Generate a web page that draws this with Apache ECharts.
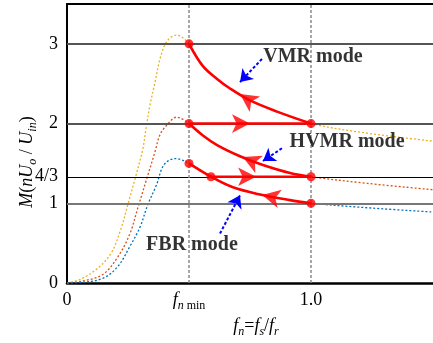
<!DOCTYPE html>
<html>
<head>
<meta charset="utf-8">
<script src="https://cdn.jsdelivr.net/npm/echarts@6/dist/echarts.min.js"></script>
<style>
html, body { margin: 0; padding: 0; background: #fff; }
#chart { width: 433px; height: 343px; }
</style>
</head>
<body>
<div id="chart"></div>
<script>
const FONT = 'Liberation Serif'

// gain curves M(fn)
const curveHigh = [[0, 0], [0.05, 0.04], [0.12, 0.17], [0.18, 0.37], [0.22, 0.67], [0.25, 0.99], [0.28, 1.32], [0.31, 1.67], [0.324, 1.94], [0.34, 2.23], [0.361, 2.52], [0.381, 2.81], [0.409, 3.03], [0.449, 3.11], [0.5, 3.0], [0.557, 2.72], [0.615, 2.56], [0.668, 2.44], [0.75, 2.29], [0.861, 2.15], [1.0, 2.0], [1.23, 1.88], [1.5, 1.78]]
const curveMid = [[0, 0], [0.066, 0.025], [0.148, 0.11], [0.209, 0.33], [0.258, 0.62], [0.291, 0.95], [0.328, 1.32], [0.361, 1.65], [0.381, 1.86], [0.409, 1.98], [0.449, 2.08], [0.5, 2.0], [0.557, 1.85], [0.615, 1.73], [0.709, 1.59], [0.803, 1.48], [0.914, 1.38], [1.0, 1.333], [1.23, 1.25], [1.5, 1.17]]
const curveLow = [[0, 0], [0.053, 0.005], [0.148, 0.06], [0.209, 0.21], [0.258, 0.46], [0.299, 0.70], [0.332, 0.99], [0.368, 1.24], [0.388, 1.43], [0.409, 1.52], [0.443, 1.56], [0.5, 1.5], [0.59, 1.333], [0.68, 1.20], [0.791, 1.11], [0.914, 1.04], [1.0, 1.0], [1.25, 0.94], [1.5, 0.89]]

// operating points and mode transitions
const dots = [[0.5, 3], [1.0, 2], [0.5, 2], [1.0, 4 / 3], [0.5, 1.5], [0.59, 4 / 3], [1.0, 1]]
const hvmrPath = [[0.5, 2], [1.0, 2]]
const fbrPath = [[0.59, 4 / 3], [1.0, 4 / 3]]
const arrowPts = [[0.709, 2.37], [0.75, 2], [0.72, 1.58], [0.775, 4 / 3], [0.80, 1.105]]
const arrowRot = [56, -90, 66, -90, 77]

// mode notes and their pointer lines
const noteText = ['VMR mode', 'HVMR mode', 'FBR mode']
const notePos = [[1.008, 2.84], [1.148, 1.77], [0.512, 0.48]]
const pointerFrom = [[0.799, 2.81], [0.881, 1.69], [0.627, 0.62]]
const pointerTo = [[0.709, 2.52], [0.803, 1.53], [0.709, 1.10]]

// axes
const xTickVals = [0, 0.5, 1.0]
const xTickText = ['0', '{fi|f}{si|n}{sr| min}', '1.0']
const yTickVals = [0, 1, 4 / 3, 2, 3]
const yTickText = ['0', '1', '4/3', '2', '3']
const hLineVals = [1, 4 / 3, 2, 3]
const vLineVals = [0.5, 1.0]

const inRange = (pts) => pts.filter(p => p[0] >= 0.5 && p[0] <= 1.0)

const chart = echarts.init(document.getElementById('chart'))

const rich = {
  fi: { fontFamily: FONT, fontStyle: 'italic', fontSize: 18, lineHeight: 20, verticalAlign: 'top', color: '#000' },
  r: { fontFamily: FONT, fontSize: 18, lineHeight: 20, verticalAlign: 'top', color: '#000' },
  si: { fontFamily: FONT, fontStyle: 'italic', fontSize: 12, lineHeight: 12, verticalAlign: 'top', padding: [9, 0, 0, 0], color: '#000' },
  sr: { fontFamily: FONT, fontSize: 12, lineHeight: 12, verticalAlign: 'top', padding: [9, 0, 0, 0], color: '#000' }
}

const hStyle = [
  { color: '#777', width: 2.2, type: 'solid' },
  { color: '#000', width: 1.2, type: 'solid' },
  { color: '#555', width: 1.8, type: 'solid' },
  { color: '#555', width: 1.8, type: 'solid' }
]

const dotted = (name, data, color) => ({
  name, type: 'line', data, showSymbol: false, smooth: 0.35,
  lineStyle: { color, width: 1.3, type: [2, 2] }, z: 3
})
const redLine = (data, smooth) => ({
  type: 'line', data, showSymbol: false, smooth,
  lineStyle: { color: '#ff0000', width: 2.6 }, z: 5
})

chart.setOption({
  animation: false,
  grid: { left: 67, right: 0, top: 4, bottom: 56 },
  xAxis: [{
    type: 'value', min: 0, max: 1.5,
    axisLine: { lineStyle: { color: '#000', width: 2.6 } },
    axisTick: { show: false },
    splitLine: { show: false },
    axisLabel: {
      customValues: xTickVals, margin: 8, color: '#000', fontFamily: FONT, fontSize: 18,
      formatter: v => xTickText[xTickVals.indexOf(v)] ?? '', rich
    },
    name: '{fi|f}{si|n}{r|=}{fi|f}{si|s}{r|/}{fi|f}{si|r}',
    nameLocation: 'middle', nameGap: 34,
    nameTextStyle: { rich, padding: [0, 0, 0, 12] }
  }, {
    type: 'value', min: 0, max: 1.5, position: 'top',
    axisLine: { show: true, lineStyle: { color: '#000', width: 2 } },
    axisTick: { show: false }, axisLabel: { show: false }, splitLine: { show: false }
  }],
  yAxis: {
    type: 'value', min: 0, max: 3.5,
    axisLine: { show: true, lineStyle: { color: '#000', width: 2 } },
    axisTick: { show: false },
    splitLine: { show: false },
    axisLabel: {
      customValues: yTickVals, margin: 9, color: '#000', fontFamily: FONT, fontSize: 18,
      formatter: v => yTickText[yTickVals.findIndex(t => Math.abs(t - v) < 1e-6)] ?? ''
    }
  },
  graphic: [{
    type: 'text', x: 28, y: 162, rotation: Math.PI / 2,
    style: {
      text: '{fi|M}{r|(}{fi|nU}{si|o}{r| / }{fi|U}{si|in}{r|)}',
      rich, align: 'center', verticalAlign: 'middle'
    }
  }],
  series: [
    {
      type: 'line', data: [], silent: true, z: 1,
      markLine: {
        silent: true, symbol: ['none', 'none'], label: { show: false },
        data: [
          ...hLineVals.map((v, i) => ({ yAxis: v, lineStyle: hStyle[i] })),
          ...vLineVals.map(v => ({ xAxis: v, lineStyle: { color: '#8a8a8a', width: 1.5, type: [3, 2] } }))
        ]
      }
    },
    dotted('high', curveHigh, '#EDB120'),
    dotted('mid', curveMid, '#D95319'),
    dotted('low', curveLow, '#0072BD'),
    redLine(inRange(curveHigh), 0.35),
    redLine(inRange(curveMid), 0.35),
    redLine(inRange(curveLow), 0.35),
    redLine(hvmrPath, false),
    redLine(fbrPath, false),
    {
      type: 'scatter', data: dots, symbol: 'circle', symbolSize: 9,
      itemStyle: { color: '#ff0000' }, z: 6
    },
    {
      type: 'scatter', symbol: 'arrow', symbolSize: [14, 18], z: 7,
      itemStyle: { color: '#ff0000' },
      data: arrowPts.map((p, i) => ({ value: p, symbolRotate: arrowRot[i] }))
    },
    {
      type: 'scatter', symbolSize: 1, z: 8,
      itemStyle: { color: 'transparent' },
      label: {
        show: true, position: 'inside', formatter: p => noteText[p.dataIndex],
        fontFamily: FONT, fontWeight: 'bold', fontSize: 20, color: '#000',
        textBorderWidth: 0
      },
      data: notePos,
      markLine: {
        silent: true, symbol: ['none', 'arrow'], symbolSize: 12, label: { show: false },
        lineStyle: { color: '#0000ff', width: 2, type: [3, 2] },
        data: pointerFrom.map((p, i) => [{ coord: p }, { coord: pointerTo[i] }])
      }
    }
  ]
})
</script>
</body>
</html>
